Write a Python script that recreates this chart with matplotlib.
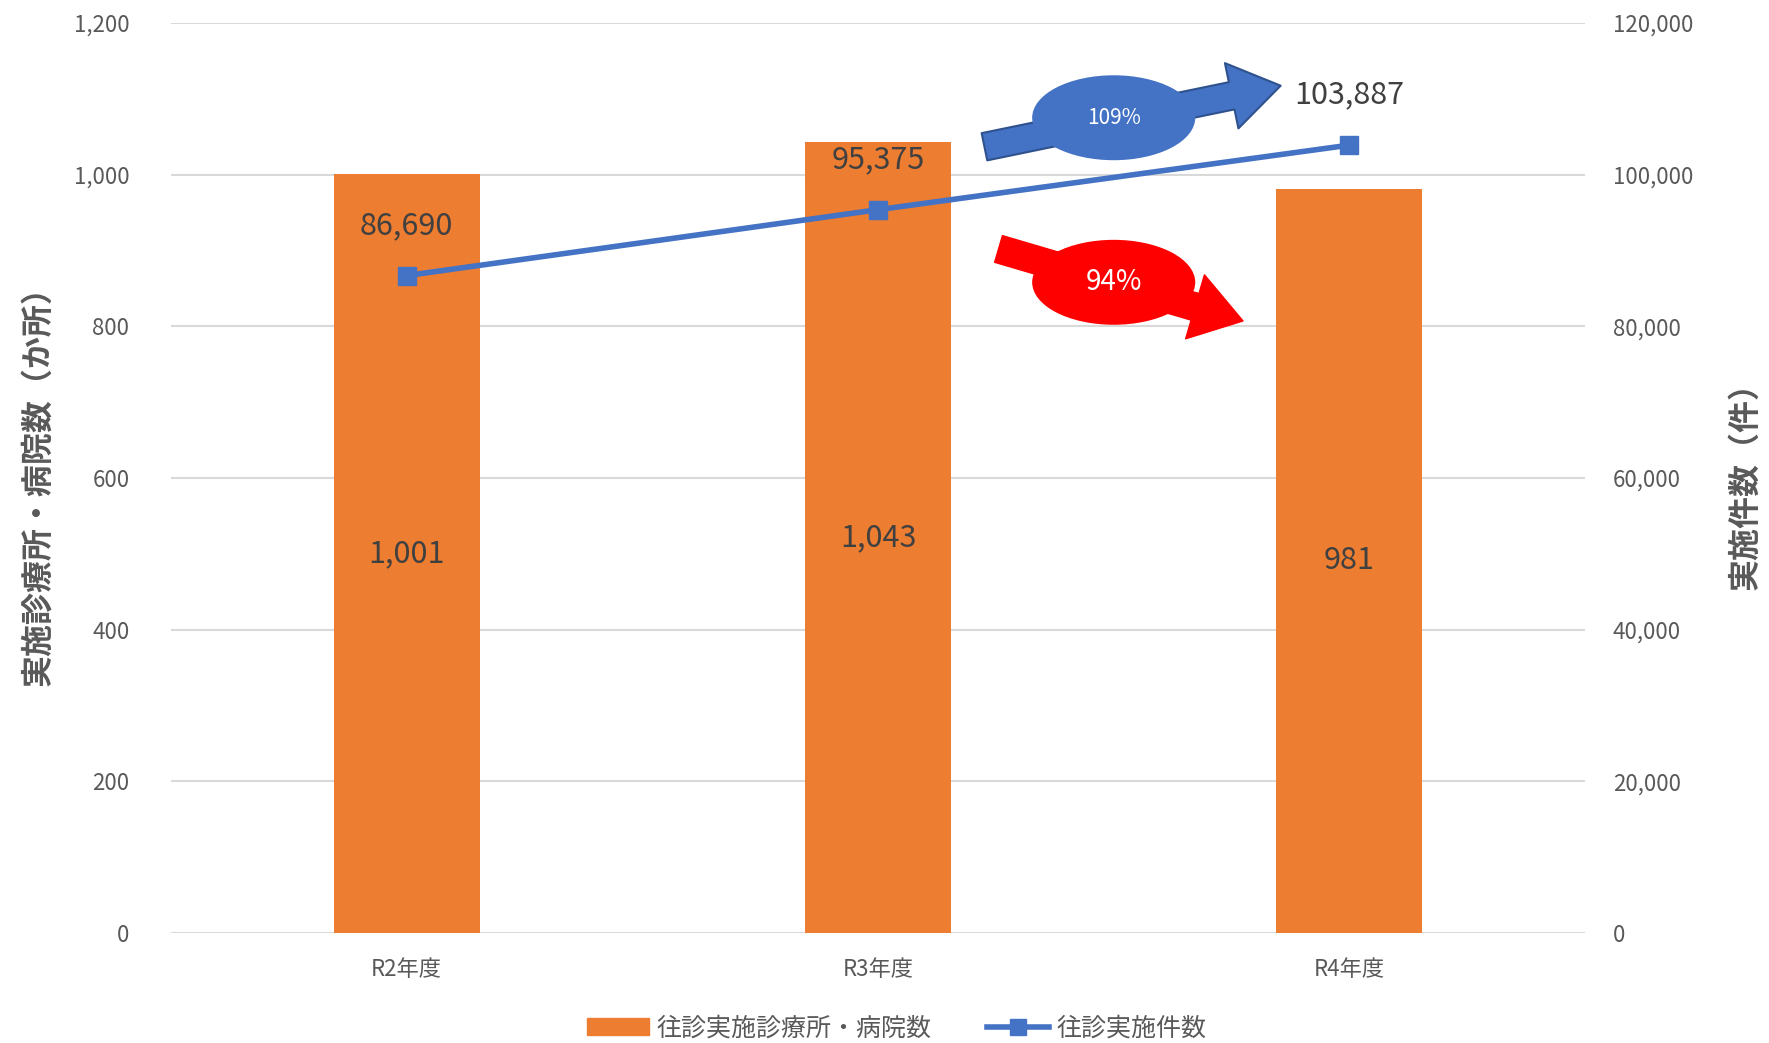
import matplotlib
matplotlib.use("Agg")
import matplotlib.pyplot as plt
from matplotlib.patches import Ellipse, Patch
from matplotlib.lines import Line2D
from matplotlib.ticker import FuncFormatter

plt.rcParams['font.family'] = ['Noto Sans CJK JP', 'DejaVu Sans']

# データ
cats = ['R2年度', 'R3年度', 'R4年度']
shisetsu = [1001, 1043, 981]          # 往診実施診療所・病院数
kensu = [86690, 95375, 103887]        # 往診実施件数
ritsu = ['109%', '94%']

orange = '#ED7D31'
blue = '#4472C4'
gray = '#595959'

fig = plt.figure(figsize=(17.69, 10.43), dpi=100)
ax = fig.add_axes([0.0967, 0.1055, 0.7993, 0.8725])
ax2 = ax.twinx()

x = list(range(len(cats)))
ax.bar(x, shisetsu, width=0.31, color=orange, zorder=2)
ax2.plot(x, kensu, color=blue, lw=4, marker='s', ms=13, zorder=3)

ax.set_xlim(-0.5, 2.5)
ax.set_ylim(0, 1200)
ax2.set_ylim(0, 120000)
ax.set_yticks(range(0, 1201, 200))
ax2.set_yticks(range(0, 120001, 20000))
fmt = FuncFormatter(lambda v, p: f'{int(v):,}')
ax.yaxis.set_major_formatter(fmt)
ax2.yaxis.set_major_formatter(fmt)
ax.set_xticks(x)
ax.set_xticklabels(cats)

ax.grid(axis='y', color='#d9d9d9', lw=1.5, zorder=0)
ax.set_axisbelow(True)
for a in (ax, ax2):
    for s in a.spines.values():
        s.set_visible(False)
    a.tick_params(length=0, labelsize=16, labelcolor=gray)
ax.tick_params(axis='y', pad=30)
ax2.tick_params(axis='y', pad=20)
ax.tick_params(axis='x', pad=18)

ax.set_ylabel('実施診療所・病院数（か所）', fontsize=23, fontweight='bold', color=gray, labelpad=14)
ax2.set_ylabel('実施件数（件）', fontsize=23, fontweight='bold', color=gray, rotation=90, labelpad=26)

# データラベル
for xi, v in zip(x, shisetsu):
    ax.text(xi, v / 2, f'{v:,}', ha='center', va='center', fontsize=22, color='#404040')
for xi, v in zip(x, kensu):
    ax2.annotate(f'{v:,}', (xi, v), xytext=(0, 36), textcoords='offset points',
                 ha='center', va='center', fontsize=22, color='#404040')

# 増減の矢印
ax.annotate('', xy=(1.86, 1118), xytext=(1.22, 1036),
            arrowprops=dict(arrowstyle='simple,head_length=1.8,head_width=2.4,tail_width=1.0',
                            mutation_scale=20, fc=blue, ec='#2F528F', lw=1.5), zorder=4)
ax.annotate('', xy=(1.78, 806), xytext=(1.25, 903),
            arrowprops=dict(arrowstyle='simple,head_length=1.8,head_width=2.4,tail_width=1.0',
                            mutation_scale=20, fc='#FF0000', ec='#FF0000', lw=1), zorder=4)
ax.add_patch(Ellipse((1.50, 1075), 0.346, 112, fc=blue, ec='none', zorder=5))
ax.add_patch(Ellipse((1.50, 858), 0.346, 112, fc='#FF0000', ec='none', zorder=5))
ax.text(1.50, 1075, ritsu[0], ha='center', va='center', fontsize=15, color='white', zorder=6)
ax.text(1.50, 858, ritsu[1], ha='center', va='center', fontsize=20, color='white', zorder=6)

handles = [Patch(color=orange), Line2D([], [], color=blue, lw=4, marker='s', ms=11)]
fig.legend(handles, ['往診実施診療所・病院数', '往診実施件数'], loc='center',
           bbox_to_anchor=(0.507, 0.014), ncol=2, frameon=False, fontsize=18,
           labelcolor=gray, handlelength=2.5, handletextpad=0.3, columnspacing=2.2)

fig.savefig('out.png', dpi=100)
